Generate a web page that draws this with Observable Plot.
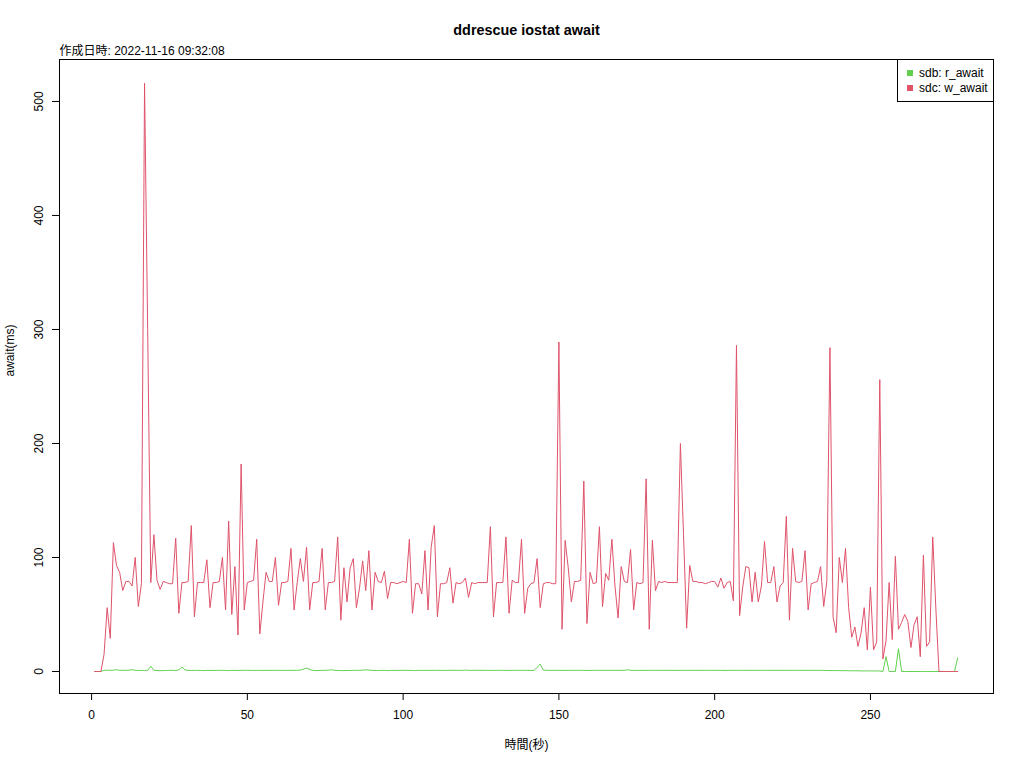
<!DOCTYPE html>
<html><head><meta charset="utf-8">
<script src="https://cdn.jsdelivr.net/npm/d3@7"></script>
<script src="https://cdn.jsdelivr.net/npm/@observablehq/plot@0.6"></script>
<style>
body{margin:0;background:#fff;}
#chart svg{font-family:"Liberation Sans",Arial,"Noto Sans CJK JP",sans-serif;}
</style>
</head><body><div id="chart"></div>
<script>
const title = "ddrescue iostat await";
const subtitle = "作成日時: 2022-11-16 09:32:08";
const xLabel = "時間(秒)";
const yLabel = "await(ms)";
const seriesNames = ["sdb: r_await", "sdc: w_await"];
const seriesColors = ["#61D04F", "#DF536B"];
const xTicks = [0, 50, 100, 150, 200, 250];
const yTicks = [0, 100, 200, 300, 400, 500];

// sdb r_await, t = 1..278
const sdbRAwait = [
0,0,0,1,1.2,1,1.1,1.6,1,1.1, 1,1.2,1.6,1,0.9,1,0.9,1.1,4.6,1.2,
0.8,0.7,0.8,0.9,1,1,0.8,1.5,4,1.3, 1,0.9,1,1,0.9,0.8,1,0.9,1,0.9,
1,1,0.9,0.8,1,1,0.9,1,1,1.1, 1,0.9,1,1,0.9,1,1,0.9,1,1,
1,0.9,1,1,1,1.1,1.2,2,3,1.8, 1,0.8,0.9,1,1,1.2,1.5,1,0.9,0.8,
0.8,0.9,0.9,1,1,1,1.2,1.5,1.2,1, 0.9,0.9,1,1,0.8,1,1,0.9,1,1,
1,1,0.9,0.8,1,1,1,1,0.9,1, 1,1,0.9,1,1,1.1,1,1,1,1.2,
1,1,1.1,1,1,1,1,1,0.9,1, 1,1,0.9,1,1,1,1,1,1,1,
0.9,1,3.5,6.5,1.2,1.1,1,1,1,1, 1,1,0.9,1,1,1,1,1,0.9,1,
1,1,1,1,1,1,1,1,1,1, 1,1.5,1,1,1,0.9,1,1,1,1,
1,1,1,1,1,1,1,1,0.9,1, 1,1,1,1,1,1,1,1,1,1,
1,1,1,0.9,1,1,1,1,1,1, 1,1,1,1,1,1,1,1,1,1,
1,1,1,1,1,1,1,1,1,1, 1,1,1,1,0.9,0.9,0.8,0.8,0.8,0.8,
0.7,0.7,0.7,0.6,0.6,0.6,0.5,0.5,0.5,0.5, 0.5,0.5,0.4,0,13,0,0,0,20,0,
0,0,0,0,0,0,0,0,0,0, 0,0,0,0,0,0,0,12
];

// sdc w_await, t = 1..278
const sdcWAwait = [
0,0,0,15,56,29,113,93,87,71, 79,79,75,100,57,77,516,300,78,120,
80,72,79,78,77,77,117,51,78,78, 79,128,48,78,78,78,98,56,78,78,
79,100,54,132,50,92,32,182,54,78, 79,80,116,33,61,87,79,79,100,58,
78,78,79,108,54,78,99,79,109,54, 78,78,79,108,54,78,78,79,118,45,
91,61,91,99,56,73,97,71,106,54, 87,79,78,88,64,78,78,77,78,79,
78,116,51,77,77,68,106,54,109,128, 48,77,77,78,91,60,78,77,78,82,
65,78,77,78,78,78,78,127,48,78, 78,78,118,51,80,78,78,116,51,73,
77,78,99,56,77,78,78,77,77,289, 37,115,91,61,79,79,80,167,42,87,
77,78,127,57,86,80,116,75,47,92, 79,78,107,54,78,77,78,169,37,115,
71,79,78,79,78,78,78,78,200,120, 38,93,79,79,78,78,77,78,79,79,
74,82,73,78,79,62,286,49,74,92, 91,61,87,61,75,114,78,78,92,61,
75,78,136,45,108,79,78,79,106,54, 77,78,79,92,57,79,284,48,34,100,
78,108,56,30,39,22,34,56,19,74, 19,26,256,11,27,78,28,101,37,43,
50,44,21,41,48,13,102,22,26,118, 55,0,0,0,0,0,0,0
];

const rows = [];
sdbRAwait.forEach((v, i) => rows.push({t: i + 1, v, s: seriesNames[0]}));
sdcWAwait.forEach((v, i) => rows.push({t: i + 1, v, s: seriesNames[1]}));

const chart = Plot.plot({
  width: 1024,
  height: 768,
  marginLeft: 59,
  marginRight: 31,
  marginTop: 59,
  marginBottom: 75,
  style: {fontSize: "12px", fontFamily: "'Liberation Sans', Arial, 'Noto Sans CJK JP', sans-serif", color: "#000", background: "#fff"},
  x: {domain: [-10.3, 289.5]},
  y: {domain: [-19.3, 536.8]},
  color: {domain: seriesNames, range: seriesColors},
  marks: [
    Plot.axisX({ticks: xTicks, tickSize: 7, tickPadding: 10, fontSize: 12, label: null, stroke: "#000"}),
    Plot.axisY({ticks: yTicks, tickSize: 7, tickPadding: 10, tickRotate: -90, fontSize: 12, label: null, stroke: "#000"}),
    Plot.line(rows, {x: "t", y: "v", z: "s", stroke: "s", strokeWidth: 1}),
    Plot.frame({stroke: "#000", strokeWidth: 1}),
    Plot.text([title], {frameAnchor: "top", dy: -29, lineAnchor: "middle", fontWeight: "bold", fontSize: 14.4}),
    Plot.text([subtitle], {frameAnchor: "top-left", dy: -8, lineAnchor: "middle", textAnchor: "start", fontSize: 12}),
    Plot.text([xLabel], {frameAnchor: "bottom", dy: 52, lineAnchor: "middle", fontSize: 12}),
    Plot.text([yLabel], {frameAnchor: "left", dx: -49, lineAnchor: "middle", rotate: -90, fontSize: 12})
  ]
});

// legend (top-right, inside plot box)
const svg = d3.select(chart);
const g = svg.append("g").attr("font-size", 12).attr("text-anchor", "start");
const lx = 1024 - 31 - 96, ly = 59;
g.append("rect").attr("x", lx + 0.5).attr("y", ly + 0.5).attr("width", 96).attr("height", 42)
  .attr("fill", "#fff").attr("stroke", "#000");
seriesNames.forEach((name, i) => {
  const cy = ly + 14 + i * 15;
  g.append("rect").attr("x", lx + 10).attr("y", cy - 3).attr("width", 6).attr("height", 6).attr("fill", seriesColors[i]);
  g.append("text").attr("x", lx + 22).attr("y", cy).attr("dy", "0.35em").attr("text-anchor", "start").text(name);
});

document.getElementById("chart").appendChild(chart);
</script>
</body></html>
